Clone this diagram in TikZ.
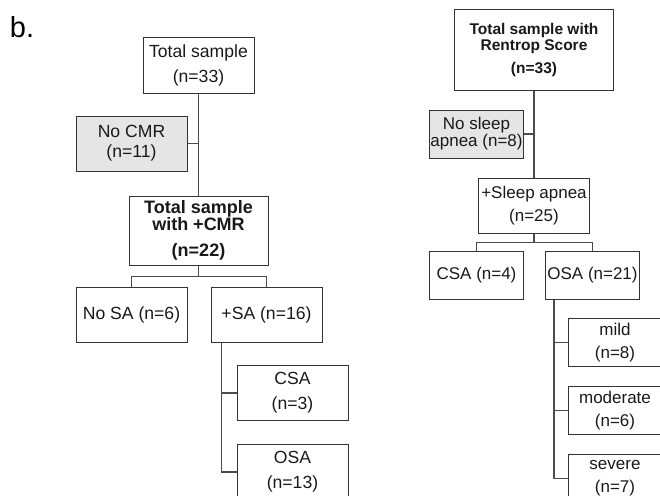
\documentclass[tikz,border=0pt]{standalone}
\usepackage{fontspec}
\setmainfont{Liberation Sans}
\usetikzlibrary{positioning}

\begin{document}
\begin{tikzpicture}[
  x=1pt,y=-1pt,
  font=\fontsize{17.6}{17}\selectfont,
  box/.style={draw=black!80,line width=1pt,inner sep=0pt,align=center,text=black!90},
  excl/.style={box,fill=black!10},
  wide/.style={minimum width=111pt,minimum height=55pt},
  narrow/.style={minimum width=94pt,minimum height=48pt,font=\fontsize{17}{17}\selectfont},
  link/.style={draw=black!70,line width=1.2pt},
  node distance=23pt
]
\useasboundingbox (0,0) rectangle (660,495);
\clip (0,0) rectangle (660,495);
\node[font=\fontsize{29}{29}\selectfont] (lbl) at (22,27) {b.};
% CMR branch
\node[box,wide] (tot) at (198.5,65.5) {Total sample\\[8pt](n=33)};
\node[excl,wide] (nocmr) at (131.5,143.5) {No CMR\\[3pt](n=11)};
\node[box,minimum width=139pt,minimum height=69pt,font=\fontsize{18}{17}\bfseries,below=102pt of tot] (cmr) {Total sample\\with +CMR\\[9pt](n=22)};
\node[box,wide] (nosa) at (131.5,314.5) {No SA (n=6)};
\node[box,wide,right=of nosa] (sa) {+SA (n=16)};
\node[box,wide] (csa) at (292.5,393) {CSA\\[8pt](n=3)};
\node[box,wide,below=of csa] (osa) {OSA\\[8pt](n=13)};
\draw[link] (tot.south) -- (cmr.north);
\draw[link] (nocmr.east) -- (nocmr.east -| tot.south);
\draw[link] (cmr.south) -- ++(0,11) coordinate (cmrfork) -| (nosa.north);
\draw[link] (cmrfork) -| (sa.north);
\draw[link] ([xshift=11pt]sa.south west) |- (csa.west);
\draw[link] ([xshift=11pt]sa.south west) |- (osa.west);
% Rentrop branch
\node[box,minimum width=159pt,minimum height=80pt,font=\fontsize{15.5}{16}\bfseries] (rtot) at (534,50) {Total sample with\\Rentrop Score\\[7pt](n=33)};
\node[excl,narrow] (nosl) at (476.5,134) {No sleep\\apnea (n=8)};
\node[box,wide,font=\fontsize{17}{17}\selectfont,below=87pt of rtot] (sl) {+Sleep apnea\\[6pt](n=25)};
\node[box,narrow] (rcsa) at (476.5,275.5) {CSA (n=4)};
\node[box,narrow,right=21pt of rcsa] (rosa) {OSA (n=21)};
\node[box,narrow] (mild) at (615,342.5) {mild\\[6pt](n=8)};
\node[box,narrow,below=19pt of mild] (moderate) {moderate\\[6pt](n=6)};
\node[box,narrow,below=19pt of moderate] (severe) {severe\\[6pt](n=7)};
\draw[link] (rtot.south) -- (sl.north);
\draw[link] (nosl.east) -- (nosl.east -| rtot.south);
\draw[link] (sl.south) -- ++(0,9) coordinate (slfork) -| (rcsa.north);
\draw[link] (slfork) -| (rosa.north);
\draw[link] ([xshift=9pt]rosa.south west) |- (mild.west);
\draw[link] ([xshift=9pt]rosa.south west) |- (moderate.west);
\draw[link] ([xshift=9pt]rosa.south west) |- (severe.west);
\end{tikzpicture}
\end{document}
